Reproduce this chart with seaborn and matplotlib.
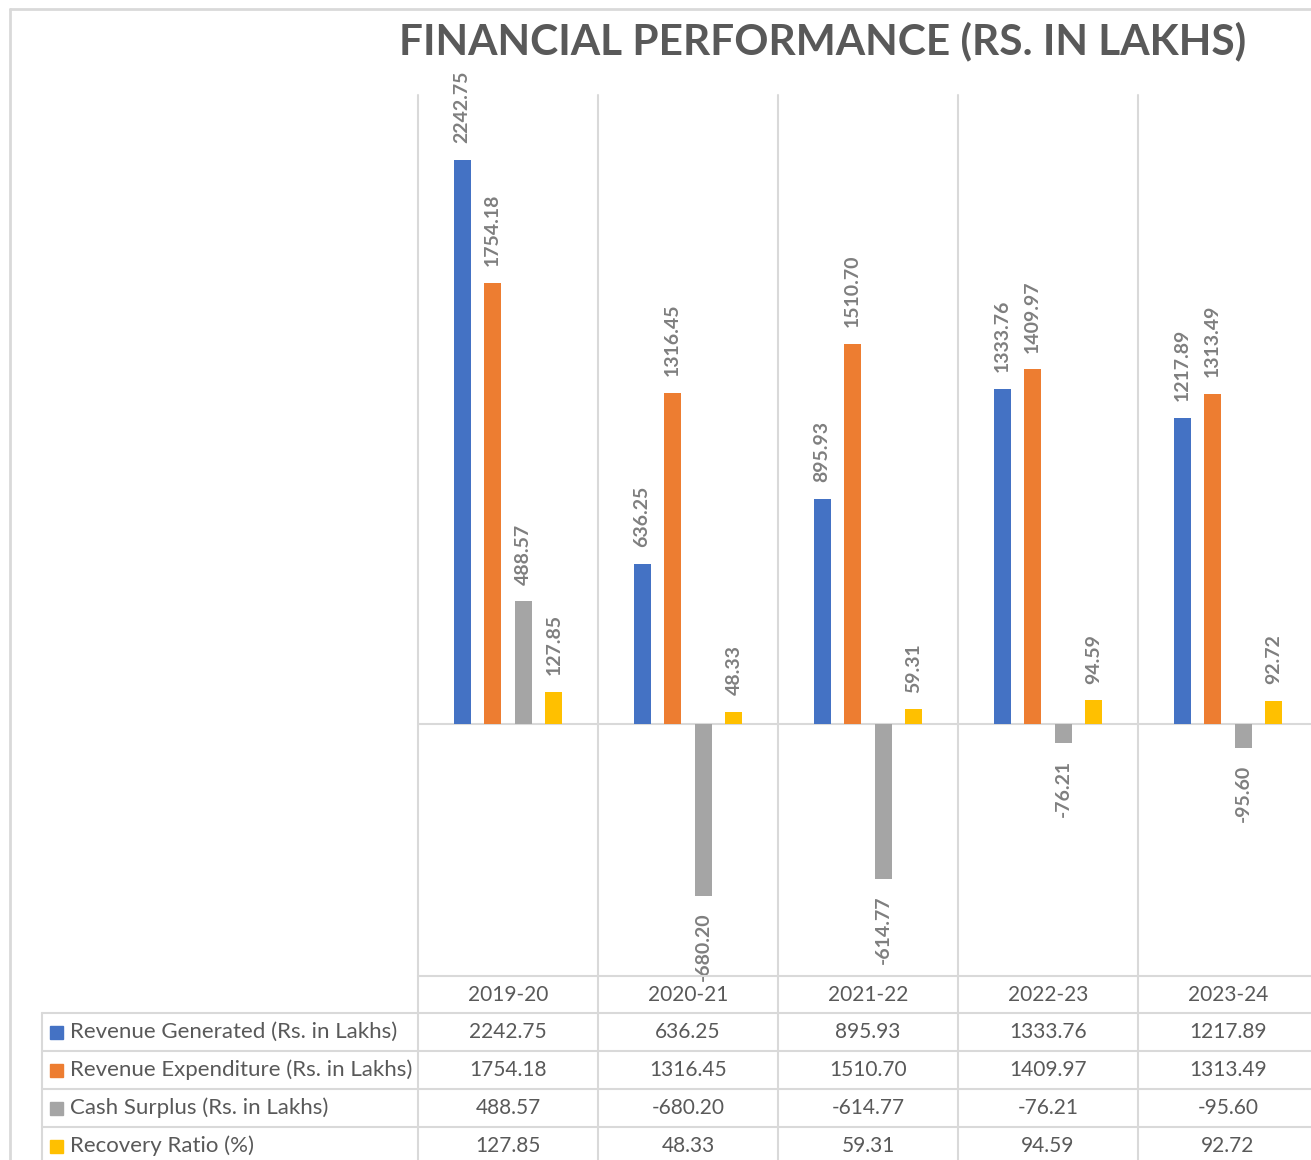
import matplotlib
matplotlib.use("Agg")
import matplotlib.pyplot as plt
import matplotlib.transforms as mtransforms
from matplotlib.patches import Rectangle
from matplotlib.lines import Line2D
import seaborn as sns
import pandas as pd

years = ["2019-20", "2020-21", "2021-22", "2022-23", "2023-24"]
series_names = ["Revenue Generated (Rs. in Lakhs)",
                "Revenue Expenditure (Rs. in Lakhs)",
                "Cash Surplus (Rs. in Lakhs)",
                "Recovery Ratio (%)"]
revenue_generated = [2242.75, 636.25, 895.93, 1333.76, 1217.89]
revenue_expenditure = [1754.18, 1316.45, 1510.70, 1409.97, 1313.49]
cash_surplus = [488.57, -680.20, -614.77, -76.21, -95.60]
recovery_ratio = [127.85, 48.33, 59.31, 94.59, 92.72]
colors = ["#4472C4", "#ED7D31", "#A5A5A5", "#FFC000"]

all_values = [revenue_generated, revenue_expenditure, cash_surplus, recovery_ratio]
df = pd.DataFrame({
    "year": years * len(series_names),
    "series": [s for s in series_names for _ in years],
    "value": [v for vals in all_values for v in vals],
})

sns.set_theme(style="white")
plt.rcParams["font.family"] = ["Lato", "DejaVu Sans"]

W, H = 1311, 1160
GRID = "#D9D9D9"
TXT = "#595959"


def fx(px):
    return px / W


def fy(py):
    return 1 - py / H


fig = plt.figure(figsize=(W / 100, H / 100), dpi=100)
ax = fig.add_axes([fx(418), fy(976), fx(1318) - fx(418), fy(95) - fy(976)])

sns.barplot(data=df, x="year", y="value", hue="series", order=years,
            hue_order=series_names, palette=colors, saturation=1,
            width=0.68, gap=0.45, linewidth=0, errorbar=None, legend=False,
            ax=ax, zorder=3)

ax.set_xlim(-0.5, len(years) - 0.5)
ax.set_ylim(-1000, 2500)
ax.axis("off")
ax.axhline(0, color=GRID, lw=1.5, zorder=1)

# data labels
for cont in ax.containers:
    ax.bar_label(cont, fmt="%.2f", rotation=90, padding=12, color="#7F7F7F",
                 fontsize=14, fontweight="bold")

# vertical category gridlines, continued through the data table
blend = mtransforms.blended_transform_factory(ax.transData, fig.transFigure)
for b in [i - 0.5 for i in range(len(years) + 1)]:
    fig.add_artist(Line2D([b, b], [fy(95), 0], transform=blend, color=GRID,
                          lw=1.5, clip_on=False))

# data table lines
fig.add_artist(Line2D([fx(418), 1], [fy(976), fy(976)], color=GRID, lw=1.5))
row_top = 1013
row_h = 38
for r in range(len(series_names)):
    y = row_top + r * row_h
    fig.add_artist(Line2D([fx(42), 1], [fy(y), fy(y)], color=GRID, lw=1.5))
fig.add_artist(Line2D([fx(42), fx(42)], [fy(row_top), 0], color=GRID, lw=1.5))

# outer chart border
fig.add_artist(Line2D([fx(10), fx(10)], [fy(9), 0], color=GRID, lw=2))
fig.add_artist(Line2D([fx(10), 1], [fy(9), fy(9)], color=GRID, lw=2))

# header row
for i, yr in enumerate(years):
    fig.text(i, fy(995), yr, transform=blend, ha="center", va="center",
             fontsize=15, color=TXT)

# body rows
for r, (name, vals, col) in enumerate(zip(series_names, all_values, colors)):
    yc = row_top + r * row_h + row_h / 2
    fig.add_artist(Rectangle((fx(50), fy(yc + 7)), fx(13), 13 / H,
                             transform=fig.transFigure, color=col))
    fig.text(fx(70), fy(yc), name, ha="left", va="center", fontsize=16,
             color=TXT)
    for i, v in enumerate(vals):
        fig.text(i, fy(yc), f"{v:.2f}", transform=blend, ha="center",
                 va="center", fontsize=15, color=TXT)

fig.text(fx(823), fy(41), "FINANCIAL PERFORMANCE (RS. IN LAKHS)", ha="center",
         va="center", fontsize=30.5, fontweight="bold", color=TXT)

fig.savefig("out.png", dpi=100)
